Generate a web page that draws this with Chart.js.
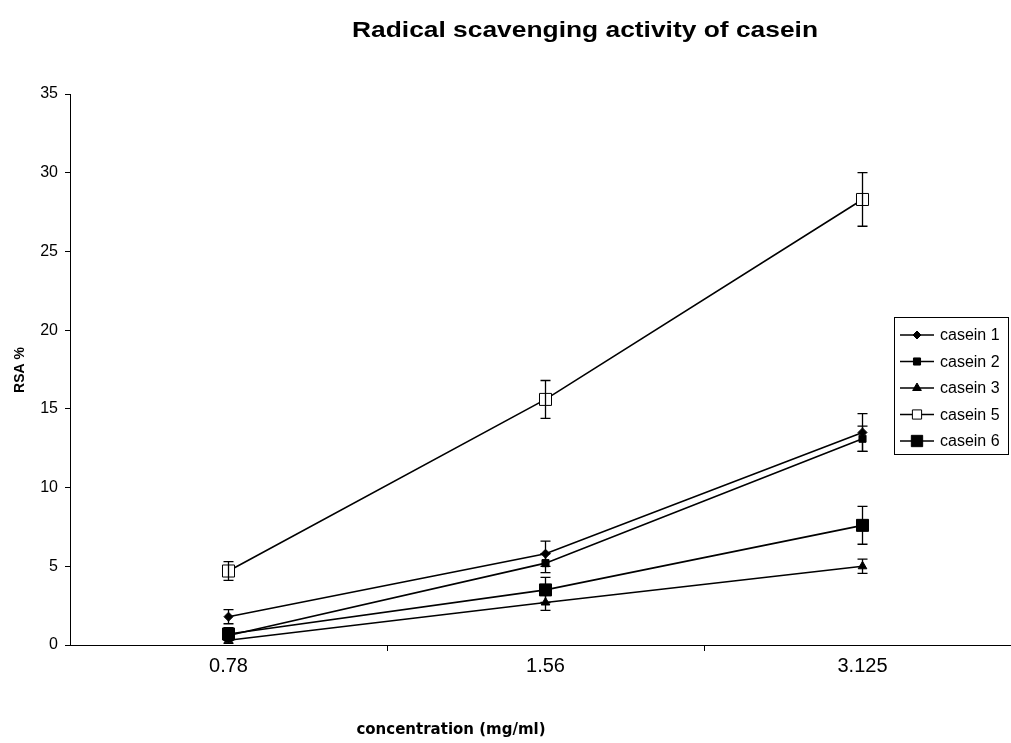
<!DOCTYPE html>
<html>
<head>
<meta charset="utf-8">
<script src="https://cdn.jsdelivr.net/npm/chart.js@4/dist/chart.umd.min.js"></script>
<style>
  html, body { margin: 0; padding: 0; background: #fff; overflow: hidden; }
  #wrap { position: relative; width: 1021px; height: 743px; }
</style>
</head>
<body>
<div id="wrap"><canvas id="myChart"></canvas></div>
<script>
const concentrations = ['0.78', '1.56', '3.125'];

const casein1 = [1.8, 5.8, 13.5];
const casein2 = [0.6, 5.2, 13.1];
const casein3 = [0.3, 2.7, 5.0];
const casein5 = [4.7, 15.6, 28.3];
const casein6 = [0.7, 3.5, 7.6];

// standard deviations for the error bars
const casein1Err = [0.45, 0.8, 1.2];
const casein2Err = [0.3, 0.6, 0.8];
const casein3Err = [0.2, 0.5, 0.45];
const casein5Err = [0.6, 1.2, 1.7];
const casein6Err = [0.4, 0.8, 1.2];

const yTicks = [0, 5, 10, 15, 20, 25, 30, 35];

// concentrations are evenly spaced categories; x runs on their index
function series(label, values, err, style, radius, fill, legendRadius) {
    return {
        label: label,
        data: values.map((v, i) => ({ x: i, y: v })),
        errors: err,
        legendRadius: legendRadius,
        borderColor: '#000',
        borderWidth: 1.6,
        pointStyle: style,
        pointRadius: radius,
        pointHoverRadius: radius,
        pointBackgroundColor: fill,
        pointBorderColor: '#000',
        pointBorderWidth: 1,
        tension: 0,
    };
}

const datasets = [
    series('casein 1', casein1, casein1Err, 'rectRot', 4.5, '#000', 4),
    series('casein 2', casein2, casein2Err, 'rect', 5, '#000', 5),
    series('casein 3', casein3, casein3Err, 'triangle', 5, '#000', 5),
    series('casein 5', casein5, casein5Err, 'rect', 8.5, '#fff', 6.5),
    series('casein 6', casein6, casein6Err, 'rect', 8.5, '#000', 8),
];

// vertical error bars with caps
const errorBars = {
    id: 'errorBars',
    afterDatasetsDraw(chart) {
        const ctx = chart.ctx;
        const y = chart.scales.y;
        ctx.save();
        ctx.strokeStyle = '#000';
        ctx.lineWidth = 1.3;
        chart.data.datasets.forEach((ds, i) => {
            const meta = chart.getDatasetMeta(i);
            meta.data.forEach((pt, j) => {
                const v = ds.data[j].y;
                const e = ds.errors[j];
                const top = y.getPixelForValue(v + e);
                const bot = y.getPixelForValue(v - e);
                ctx.beginPath();
                ctx.moveTo(pt.x, top);
                ctx.lineTo(pt.x, bot);
                ctx.moveTo(pt.x - 5, top);
                ctx.lineTo(pt.x + 5, top);
                ctx.moveTo(pt.x - 5, bot);
                ctx.lineTo(pt.x + 5, bot);
                ctx.stroke();
            });
        });
        ctx.restore();
    },
};

// titles and the boxed legend
const decorations = {
    id: 'decorations',
    afterDraw(chart) {
        const ctx = chart.ctx;
        ctx.save();
        ctx.fillStyle = '#000';
        ctx.textAlign = 'center';
        ctx.textBaseline = 'middle';

        // chart title, stretched a little wider than the plain bold face
        const title = 'Radical scavenging activity of casein';
        ctx.font = 'bold 22px "Liberation Sans", Arial, sans-serif';
        const sx = 466 / ctx.measureText(title).width;
        ctx.save();
        ctx.translate(585, 31);
        ctx.scale(sx, 1);
        ctx.fillText(title, 0, 0);
        ctx.restore();

        ctx.font = 'bold 15px "DejaVu Sans", Verdana, sans-serif';
        ctx.fillText('concentration (mg/ml)', 451, 730);

        ctx.font = 'bold 14px "Liberation Sans", Arial, sans-serif';
        ctx.translate(20, 370);
        ctx.rotate(-Math.PI / 2);
        ctx.fillText('RSA %', 0, 0);
        ctx.restore();

        // legend
        ctx.save();
        const bx = 894, by = 317, bw = 114, bh = 137;
        ctx.fillStyle = '#fff';
        ctx.fillRect(bx, by, bw, bh);
        ctx.strokeStyle = '#000';
        ctx.lineWidth = 1;
        ctx.strokeRect(bx + 0.5, by + 0.5, bw, bh);
        ctx.font = '16px "Liberation Sans", Arial, sans-serif';
        ctx.textAlign = 'left';
        ctx.textBaseline = 'middle';
        chart.data.datasets.forEach((ds, i) => {
            const ry = 335 + i * 26.5;
            ctx.strokeStyle = '#000';
            ctx.lineWidth = 1.6;
            ctx.beginPath();
            ctx.moveTo(900, ry);
            ctx.lineTo(934, ry);
            ctx.stroke();
            ctx.fillStyle = ds.pointBackgroundColor;
            ctx.lineWidth = 1;
            Chart.helpers.drawPoint(ctx, {
                pointStyle: ds.pointStyle,
                radius: ds.legendRadius,
                rotation: 0,
                borderWidth: 1,
            }, 917, ry);
            ctx.fillStyle = '#000';
            ctx.fillText(ds.label, 940, ry + 1);
        });
        ctx.restore();
    },
};

const isCategory = (v) => Math.abs(v - Math.round(v)) < 1e-9;

new Chart(document.getElementById('myChart').getContext('2d'), {
    type: 'line',
    data: {
        datasets: datasets,
    },
    options: {
        responsive: true,
        maintainAspectRatio: false,
        animation: false,
        layout: {
            padding: { left: 0, top: 94, right: 0, bottom: 0 },
        },
        plugins: {
            legend: { display: false },
            title: { display: false },
            tooltip: { enabled: false },
        },
        scales: {
            x: {
                type: 'linear',
                min: -0.5,
                max: 2.47,
                afterFit: (scale) => { scale.height = 98; },
                afterBuildTicks: (scale) => {
                    // category centres carry the labels, half steps carry the tick marks
                    scale.ticks = [0, 0.5, 1, 1.5, 2].map((v) => ({ value: v }));
                },
                border: { color: '#000', width: 1 },
                grid: {
                    drawOnChartArea: false,
                    tickLength: 6,
                    color: (c) => (c.tick && isCategory(c.tick.value) ? 'rgba(0,0,0,0)' : '#000'),
                },
                ticks: {
                    autoSkip: false,
                    maxRotation: 0,
                    color: '#000',
                    padding: 3,
                    font: { family: '"Liberation Sans", Arial, sans-serif', size: 20 },
                    callback: (v) => (isCategory(v) ? concentrations[Math.round(v)] : ''),
                },
            },
            y: {
                min: 0,
                max: 35,
                afterFit: (scale) => { scale.width = 70; },
                afterBuildTicks: (scale) => {
                    scale.ticks = yTicks.map((v) => ({ value: v }));
                },
                border: { color: '#000', width: 1 },
                grid: {
                    drawOnChartArea: false,
                    tickLength: 5,
                    color: '#000',
                },
                ticks: {
                    color: '#000',
                    padding: 7,
                    font: { family: '"Liberation Sans", Arial, sans-serif', size: 16 },
                },
            },
        },
    },
    plugins: [errorBars, decorations],
});
</script>
</body>
</html>
